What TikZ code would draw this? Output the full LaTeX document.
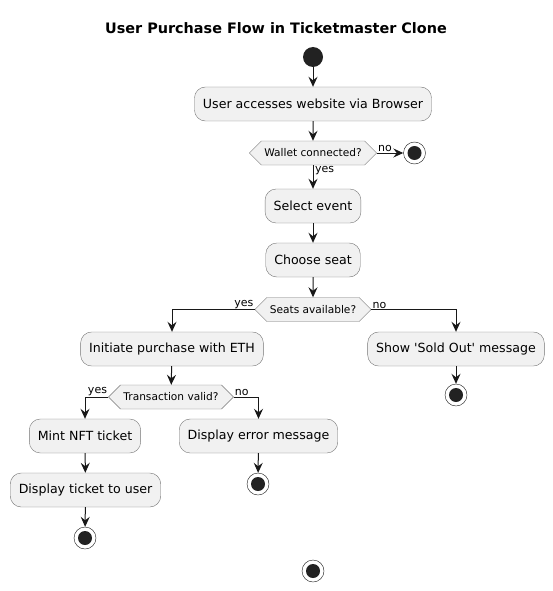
\documentclass[tikz,border=0pt]{standalone}
\usepackage{fontspec}
\setmainfont{DejaVu Sans}
\usetikzlibrary{shapes.symbols, arrows.meta, positioning}
\definecolor{boxfill}{HTML}{F1F1F1}
\definecolor{ink}{HTML}{181818}
\definecolor{dotc}{HTML}{222222}

\begin{document}
\begin{tikzpicture}[x=1pt,y=-1pt,
  act/.style={draw=ink!60, fill=boxfill, rounded corners=11pt, minimum height=34pt, inner xsep=8.5pt, font=\fontsize{12.6}{14}\selectfont},
  cond/.style={signal, signal to=west and east, signal pointer angle=90, draw=ink!60, fill=boxfill, minimum height=24pt, inner xsep=3pt, font=\fontsize{10.6}{12}\selectfont},
  startdot/.style={circle, fill=dotc, minimum size=20pt, inner sep=0pt},
  stopdot/.style={circle, draw=ink, fill=white, minimum size=22pt, inner sep=0pt, path picture={\fill[dotc] (path picture bounding box.center) circle (7pt);}},
  arr/.style={draw=ink, line width=1pt, -{Stealth[length=10pt,width=9pt,inset=3.5pt]}},
  lbl/.style={font=\fontsize{11}{12}\selectfont, inner sep=1pt}
]
\useasboundingbox (0,0) rectangle (553,591);
\node[font=\bfseries\fontsize{14.4}{16}\selectfont] (title) at (276,28) {User Purchase Flow in Ticketmaster Clone};
% Main line
\node[startdot] (start) at (313,57) {};
\node[act] (access) at (313,104) {User accesses website via Browser};
\node[cond] (wallet) at (313,153) {Wallet connected?};
\node[stopdot] (stopA) at (414.5,153) {};
\node[act] (select) at (313,206) {Select event};
\node[act] (seat) at (313,260) {Choose seat};
\node[cond] (avail) at (313,309.5) {Seats available?};
% Left branch
\node[act] (buy) at (172,349) {Initiate purchase with ETH};
\node[cond] (valid) at (171,397) {Transaction valid?};
\node[act] (mint) at (85,436) {Mint NFT ticket};
\node[act] (show) at (85.5,490) {Display ticket to user};
\node[stopdot] (stopC) at (85,538) {};
\node[act] (error) at (258.5,436) {Display error message};
\node[stopdot] (stopD) at (258,484) {};
% Right branch
\node[act] (soldout) at (456,349) {Show \textquotesingle Sold Out\textquotesingle{} message};
\node[stopdot] (stopB) at (456,395) {};
\node[stopdot] (stopE) at (313,571) {};

\draw[arr] (start) -- (access);
\draw[arr] (access) -- (wallet);
\draw[arr] (wallet.east) -- (stopA);
\node[lbl, anchor=south west] at (wallet.east) {no};
\draw[arr] (wallet.south) -- (select);
\node[lbl, anchor=north west] at ([xshift=1pt]wallet.south) {yes};
\draw[arr] (select) -- (seat);
\draw[arr] (seat) -- (avail);
\draw[arr] (avail.west) -| (buy);
\node[lbl, anchor=south east] at (avail.west) {yes};
\draw[arr] (avail.east) -| (soldout);
\node[lbl, anchor=south west] at (avail.east) {no};
\draw[arr] (soldout) -- (stopB);
\draw[arr] (buy) -- (valid);
\draw[arr] (valid.west) -| (mint);
\node[lbl, anchor=south east] at (valid.west) {yes};
\draw[arr] (valid.east) -| (error);
\node[lbl, anchor=south west] at (valid.east) {no};
\draw[arr] (mint) -- (show);
\draw[arr] (show) -- (stopC);
\draw[arr] (error) -- (stopD);
\end{tikzpicture}
\end{document}
